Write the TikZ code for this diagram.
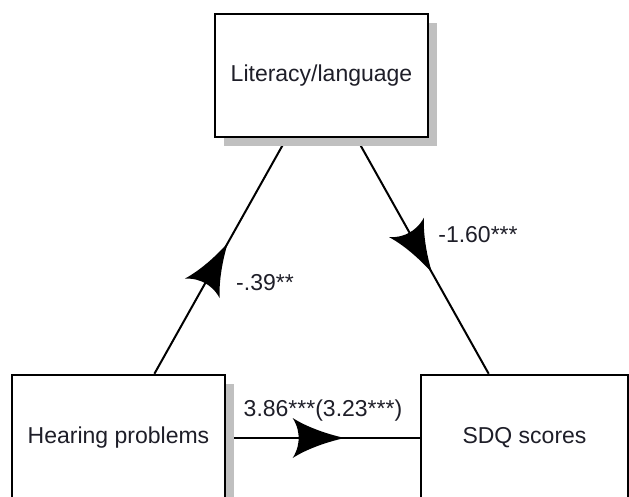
\documentclass[tikz,border=0pt]{standalone}
\usepackage{fontspec}
\setmainfont{Liberation Sans}
\usetikzlibrary{shadows,decorations.markings}
\pgfdeclarelayer{bg}
\pgfsetlayers{bg,main}
\definecolor{shadowc}{RGB}{192,192,192}
\definecolor{textc}{RGB}{30,30,40}
\begin{document}
\begin{tikzpicture}[x=1pt,y=-1pt,
  box/.style={draw=black, line width=2.5pt, fill=white, inner sep=0pt,
    font=\fontsize{23}{27}\selectfont, text=textc,
    drop shadow={shadow xshift=9pt, shadow yshift=-9pt, fill=shadowc, opacity=1}},
  lbl/.style={font=\fontsize{23}{27}\selectfont, text=textc, inner sep=0pt},
  conn/.style={draw=black, line width=2pt},
  midarrow/.style={postaction={decorate, decoration={markings,
    mark=at position #1 with {\fill[black] (0,0) .. controls (-18,-4) and (-38,-11) .. (-52,-20)
      .. controls (-47,-12) and (-46,-5) .. (-46,0)
      .. controls (-46,5) and (-47,12) .. (-52,20)
      .. controls (-38,11) and (-18,4) .. (0,0) -- cycle;}}}}]
\useasboundingbox (0,0) rectangle (629,497);
\clip (0,0) rectangle (629,497);
\node[box, minimum width=213pt, minimum height=123pt] (lit) at (321.5,75.5) {Literacy/language};
\node[box, minimum width=213pt, minimum height=126pt] (hear) at (118.5,438) {Hearing problems};
\node[box, minimum width=207pt, minimum height=126pt] (sdq) at (524.5,438) {SDQ scores};
\begin{pgfonlayer}{bg}
\draw[conn, midarrow=0.555] (hear) -- (lit);
\draw[conn, midarrow=0.571] (lit) -- (sdq);
\draw[conn, midarrow=0.612] (hear) -- (sdq);
\end{pgfonlayer}
\node[lbl] (l1) at (265,283) {-.39**};
\node[lbl] (l2) at (478,235) {-1.60***};
\node[lbl] (l3) at (323,411) {3.86***(3.23***)};
\end{tikzpicture}
\end{document}
